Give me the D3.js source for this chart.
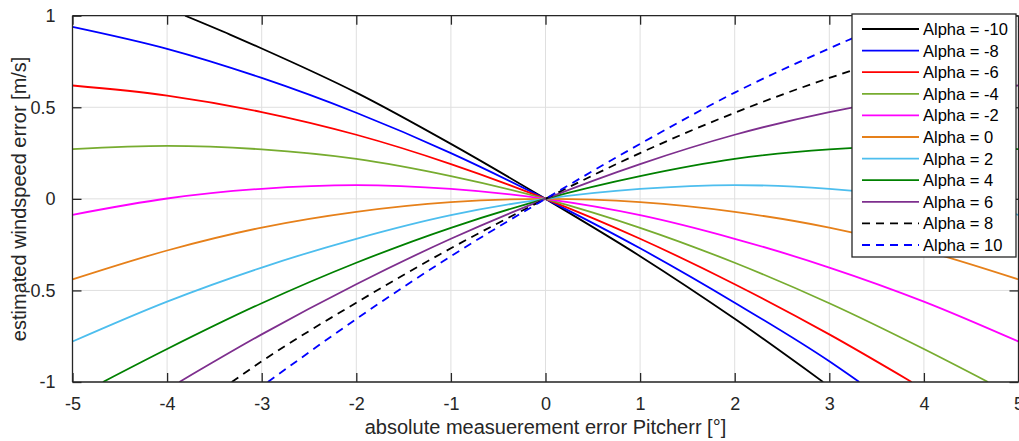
<!DOCTYPE html>
<html>
<head>
<meta charset="utf-8">
<script src="https://cdn.jsdelivr.net/npm/d3@7"></script>
<style>
  html, body { margin: 0; padding: 0; background: #fff; }
  svg { display: block; font-family: "Liberation Sans", Arial, Helvetica, sans-serif; }
</style>
</head>
<body>
<svg id="chart" width="1019" height="441"></svg>
<script>
// ---- data ----
const xTicks = [-5, -4, -3, -2, -1, 0, 1, 2, 3, 4, 5];
const yTicks = [-1, -0.5, 0, 0.5, 1];
const xLabel = "absolute measuerement error Pitcherr [°]";
const yLabel = "estimated windspeed error [m/s]";

const alphaM10 = [[-3.81, 1], [-3.335, 0.897], [-3, 0.821], [-2, 0.58], [-1, 0.30], [0, 0], [1, -0.313], [2, -0.655], [2.935, -1]];
const alphaM8  = [[-5, 0.939], [-4, 0.819], [-3, 0.66], [-2, 0.47], [-1, 0.25], [0, 0], [1, -0.27], [2, -0.567], [3, -0.887], [3.317, -1]];
const alphaM6  = [[-5, 0.619], [-4, 0.564], [-3, 0.474], [-2, 0.35], [-1, 0.19], [0, 0], [1, -0.218], [2, -0.466], [3, -0.74], [3.871, -1]];
const alphaM4  = [[-5, 0.271], [-4, 0.289], [-3, 0.27], [-2, 0.218], [-1, 0.124], [0, 0], [1, -0.158], [2, -0.349], [3, -0.57], [4, -0.82], [4.678, -1]];
const alphaM2  = [[-5, -0.087], [-4, 0.002], [-3, 0.055], [-2, 0.075], [-1, 0.054], [0, 0], [1, -0.089], [2, -0.218], [3, -0.375], [4, -0.561], [5, -0.779]];
const alpha0   = [[-5, -0.44], [-4, -0.282], [-3, -0.157], [-2, -0.071], [-1, -0.018], [0, 0], [1, -0.018], [2, -0.071], [3, -0.157], [4, -0.282], [5, -0.44]];
const alphaP2  = [[-5, -0.779], [-4, -0.561], [-3, -0.375], [-2, -0.218], [-1, -0.089], [0, 0], [1, 0.054], [2, 0.075], [3, 0.055], [4, 0.002], [5, -0.087]];
const alphaP4  = [[-4.678, -1], [-4, -0.82], [-3, -0.57], [-2, -0.349], [-1, -0.158], [0, 0], [1, 0.124], [2, 0.218], [3, 0.27], [4, 0.289], [5, 0.271]];
const alphaP6  = [[-3.871, -1], [-3, -0.74], [-2, -0.466], [-1, -0.218], [0, 0], [1, 0.19], [2, 0.35], [3, 0.474], [4, 0.564], [5, 0.619]];
const alphaP8  = [[-3.317, -1], [-3, -0.887], [-2, -0.567], [-1, -0.27], [0, 0], [1, 0.25], [2, 0.47], [3, 0.66], [4, 0.819], [5, 0.939]];
const alphaP10 = [[-2.935, -1], [-2, -0.656], [-1, -0.313], [0, 0], [1, 0.30], [2, 0.58], [3, 0.821], [3.335, 0.897], [3.81, 1]];

const seriesNames = ["Alpha = -10", "Alpha = -8", "Alpha = -6", "Alpha = -4", "Alpha = -2", "Alpha = 0",
                     "Alpha = 2", "Alpha = 4", "Alpha = 6", "Alpha = 8", "Alpha = 10"];
const seriesData = [alphaM10, alphaM8, alphaM6, alphaM4, alphaM2, alpha0, alphaP2, alphaP4, alphaP6, alphaP8, alphaP10];
const seriesColors = ["#000000", "#0000ff", "#ff0000", "#77ac30", "#ff00ff", "#e6801a",
                      "#4dbeee", "#008000", "#7e2f8e", "#000000", "#0000ff"];
const seriesDash = [null, null, null, null, null, null, null, null, null, "8,6", "8,6"];

// ---- layout ----
const plot = { left: 72.5, right: 1018.5, top: 15.7, bottom: 382 };
const axisColor = "#262626";

const svg = d3.select("#chart");
const x = d3.scaleLinear().domain([-5, 5]).range([plot.left, plot.right]);
const y = d3.scaleLinear().domain([-1, 1]).range([plot.bottom, plot.top]);

// grid
const grid = svg.append("g");
grid.selectAll("line.gx").data(xTicks).enter().append("line")
  .attr("x1", d => x(d)).attr("x2", d => x(d))
  .attr("y1", plot.top).attr("y2", plot.bottom)
  .attr("stroke", "#dfdfdf").attr("stroke-width", 1);
grid.selectAll("line.gy").data(yTicks).enter().append("line")
  .attr("y1", d => y(d)).attr("y2", d => y(d))
  .attr("x1", plot.left).attr("x2", plot.right)
  .attr("stroke", "#dfdfdf").attr("stroke-width", 1);

// clip
svg.append("clipPath").attr("id", "clip").append("rect")
  .attr("x", plot.left).attr("y", plot.top)
  .attr("width", plot.right - plot.left).attr("height", plot.bottom - plot.top);

// lines
const line = d3.line().x(d => x(d[0])).y(d => y(d[1])).curve(d3.curveMonotoneX);
const lines = svg.append("g").attr("clip-path", "url(#clip)");
seriesData.forEach((s, i) => {
  lines.append("path")
    .attr("d", line(s))
    .attr("fill", "none")
    .attr("stroke", seriesColors[i])
    .attr("stroke-width", 1.8)
    .attr("stroke-dasharray", seriesDash[i]);
});

// axes (MATLAB style box with inner ticks)
const tickLen = 9;
const axB = svg.append("g").attr("transform", `translate(0,${plot.bottom})`)
  .call(d3.axisBottom(x).tickValues(xTicks).tickSize(-tickLen).tickPadding(tickLen + 6));
const axT = svg.append("g").attr("transform", `translate(0,${plot.top})`)
  .call(d3.axisTop(x).tickValues(xTicks).tickSize(-tickLen).tickFormat(""));
const axL = svg.append("g").attr("transform", `translate(${plot.left},0)`)
  .call(d3.axisLeft(y).tickValues(yTicks).tickSize(-tickLen).tickPadding(tickLen + 8));
const axR = svg.append("g").attr("transform", `translate(${plot.right},0)`)
  .call(d3.axisRight(y).tickValues(yTicks).tickSize(-tickLen).tickFormat(""));

[axB, axT, axL, axR].forEach(a => {
  a.select(".domain").attr("stroke", axisColor).attr("stroke-width", 1.3);
  a.selectAll(".tick line").attr("stroke", axisColor).attr("stroke-width", 1.3);
  a.selectAll(".tick text").attr("fill", axisColor)
    .style("font-size", "18px").style("font-family", '"Liberation Sans", Arial, sans-serif');
});
axB.selectAll(".tick text").text(d => String(d));
axL.selectAll(".tick text").text(d => String(d));
axB.select(".domain").attr("d", `M${plot.left},0H${plot.right}`);
axT.select(".domain").attr("d", `M${plot.left},0H${plot.right}`);
axL.select(".domain").attr("d", `M0,${plot.top}V${plot.bottom}`);
axR.select(".domain").attr("d", `M0,${plot.top}V${plot.bottom}`);

// axis labels
svg.append("text")
  .attr("x", (plot.left + plot.right) / 2).attr("y", 434)
  .attr("text-anchor", "middle").attr("fill", axisColor)
  .style("font-size", "20px").text(xLabel);
svg.append("text")
  .attr("transform", `translate(26,${(plot.top + plot.bottom) / 2}) rotate(-90)`)
  .attr("text-anchor", "middle").attr("fill", axisColor)
  .style("font-size", "20px").text(yLabel);

// legend
const leg = { x: 852, y: 14, w: 164, h: 243, row0: 29, step: 21.6 };
const lg = svg.append("g");
lg.append("rect").attr("x", leg.x).attr("y", leg.y).attr("width", leg.w).attr("height", leg.h)
  .attr("fill", "#fff").attr("stroke", axisColor).attr("stroke-width", 1.3);
seriesNames.forEach((name, i) => {
  const cy = leg.row0 + i * leg.step;
  lg.append("line").attr("x1", 862).attr("x2", 919).attr("y1", cy).attr("y2", cy)
    .attr("stroke", seriesColors[i]).attr("stroke-width", 1.8)
    .attr("stroke-dasharray", seriesDash[i]);
  lg.append("text").attr("x", 923).attr("y", cy + 6)
    .attr("fill", "#000").style("font-size", "16.5px").text(name);
});
</script>
</body>
</html>
